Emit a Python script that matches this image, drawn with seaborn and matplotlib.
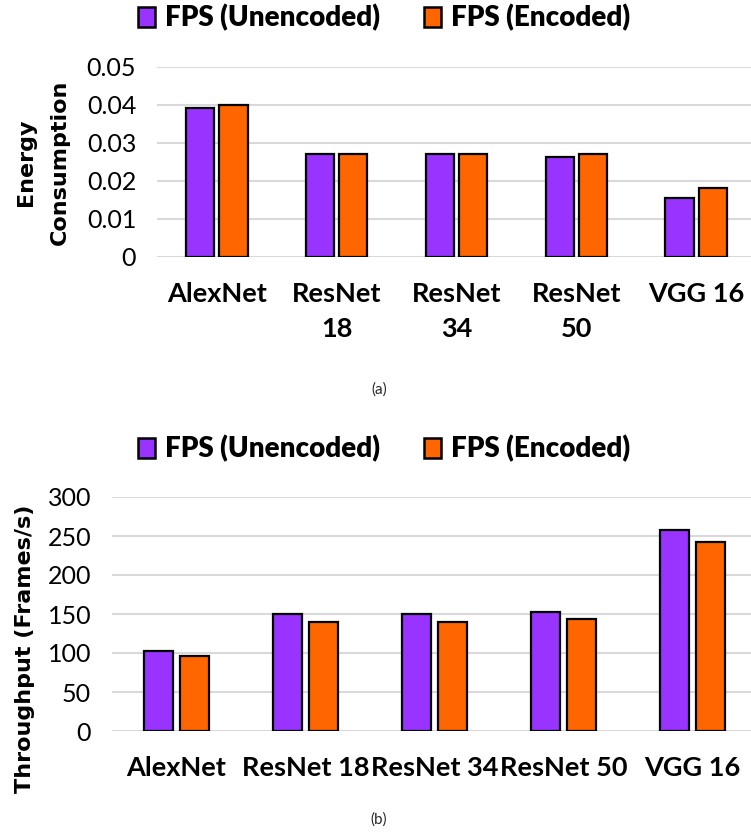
import matplotlib
matplotlib.use("Agg")
import matplotlib.pyplot as plt
import seaborn as sns
import pandas as pd
from matplotlib.patches import Patch

categories_a = ["AlexNet", "ResNet\n18", "ResNet\n34", "ResNet\n50", "VGG 16"]
categories_b = ["AlexNet", "ResNet 18", "ResNet 34", "ResNet 50", "VGG 16"]
series_names = ["FPS (Unencoded)", "FPS (Encoded)"]
energy_unencoded = [0.0392, 0.0270, 0.0270, 0.0263, 0.0156]
energy_encoded = [0.0401, 0.0270, 0.0272, 0.0270, 0.0182]
fps_unencoded = [103, 150, 150, 153, 258]
fps_encoded = [96, 140, 140, 143.5, 242]
yticks_a = [0, 0.01, 0.02, 0.03, 0.04, 0.05]
yticklabels_a = ["0", "0.01", "0.02", "0.03", "0.04", "0.05"]
yticks_b = [0, 50, 100, 150, 200, 250, 300]

colors = ["#9933FF", "#FF6600"]

sns.set_theme(style="white")
plt.rcParams["font.family"] = ["Lato", "DejaVu Sans"]

df_a = pd.DataFrame({
    "cat": categories_a * 2,
    "series": [series_names[0]] * 5 + [series_names[1]] * 5,
    "val": energy_unencoded + energy_encoded,
})
df_b = pd.DataFrame({
    "cat": categories_b * 2,
    "series": [series_names[0]] * 5 + [series_names[1]] * 5,
    "val": fps_unencoded + fps_encoded,
})

W, H = 751, 838
fig = plt.figure(figsize=(W / 100, H / 100), dpi=100)

def px_axes(left, top, right, bottom):
    return fig.add_axes([left / W, 1 - bottom / H, (right - left) / W, (bottom - top) / H])

ax1 = px_axes(157, 67, 756, 257)
ax2 = px_axes(112, 497, 757, 731)

def style(ax, df, width, gap, ylim, yticks, ylabels, xsize):
    sns.barplot(data=df, x="cat", y="val", hue="series", palette=colors,
                saturation=1, width=width, gap=gap, edgecolor="black",
                linewidth=1.6, ax=ax, legend=False, zorder=3)
    ax.set_ylim(*ylim)
    ax.set_yticks(yticks)
    ax.set_yticklabels(ylabels)
    ax.set_xlim(-0.5, 4.5)
    for s in ax.spines.values():
        s.set_visible(False)
    ax.grid(axis="y", color="#D9D9D9", linewidth=1.5, zorder=0)
    ax.grid(axis="x", visible=False)
    ax.set_axisbelow(True)
    ax.tick_params(axis="both", length=0)
    ax.tick_params(axis="y", pad=15, labelsize=18, labelcolor="black")
    ax.tick_params(axis="x", pad=18, labelsize=xsize, labelcolor="black")
    for t in ax.get_xticklabels():
        t.set_fontweight("bold")
        t.set_linespacing(1.55)
    ax.set_xlabel("")

style(ax1, df_a, 0.555, 0.15, (0, 0.05), yticks_a, yticklabels_a, 19.5)
style(ax2, df_b, 0.566, 0.2, (0, 300), yticks_b, [str(v) for v in yticks_b], 19.5)

ax1.set_ylabel("Energy\nConsumption", fontsize=16, fontweight="bold",
               family=["DejaVu Sans"], linespacing=1.9, color="black",
               va="center", ha="center")
ax1.yaxis.set_label_coords((43 - 157) / 599, 0.5)
ax2.set_ylabel("Throughput (Frames/s)", fontsize=16, fontweight="bold",
               family=["DejaVu Sans"], color="black", va="center", ha="center")
ax2.yaxis.set_label_coords((25 - 112) / 645, (731 - 649) / 234)

handles = [Patch(facecolor=c, edgecolor="black", linewidth=1.8) for c in colors]
for ax, yc in ((ax1, 18), (ax2, 449)):
    leg = ax.legend(handles, series_names, loc="center",
                    bbox_to_anchor=(384 / W, 1 - yc / H),
                    bbox_transform=fig.transFigure,
                    ncol=2, frameon=False,
                    prop={"weight": "heavy", "size": 20},
                    handlelength=0.6, handleheight=0.7, handletextpad=0.35,
                    columnspacing=1.6)
    plt.setp(leg.get_texts(), fontweight="heavy", color="black")

fig.text(379 / W, 1 - 390 / H, "(a)", ha="center", va="center", fontsize=11)
fig.text(379 / W, 1 - 820 / H, "(b)", ha="center", va="center", fontsize=11)

fig.savefig("out.png", dpi=100)
